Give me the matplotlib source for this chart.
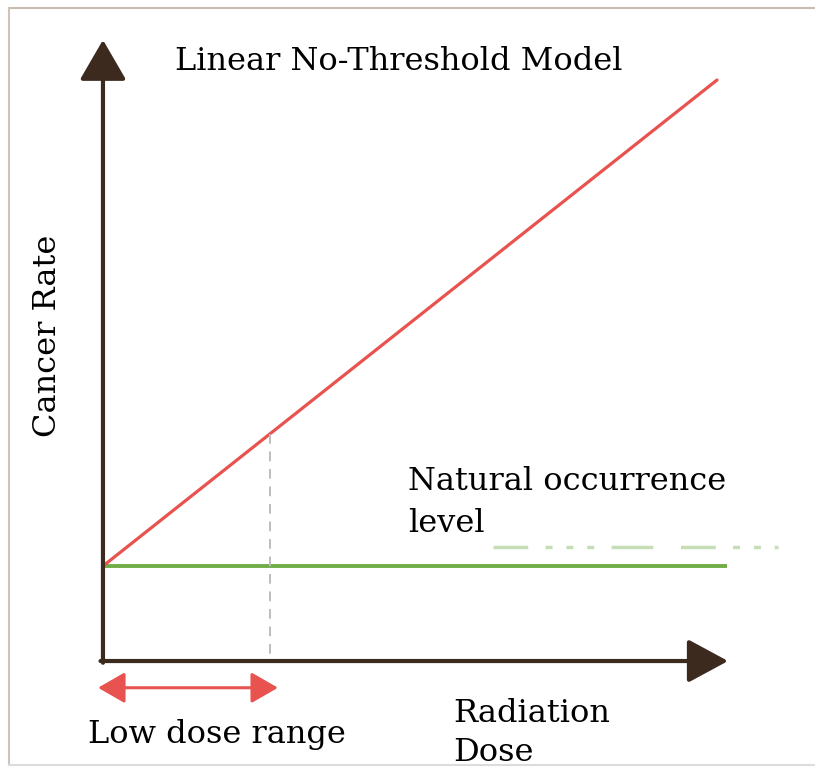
import matplotlib
matplotlib.use('Agg')
import numpy as np
import matplotlib.pyplot as plt
from matplotlib.lines import Line2D

# ---- data (schematic units) ----
dose = [0.0, 10.0]
lnt_rate = [1.635, 10.0]
natural_dose = [0.0, 10.16]
natural_rate = [1.635, 1.635]
low_dose_limit = 2.72
low_dose_arrow = [-0.08, 2.85]
faint_dose = [6.35, 11.0]
faint_rate = [1.96, 1.96]

title = "Linear No-Threshold Model"
ylabel = "Cancer Rate"
xlabel = ["Radiation", "Dose"]
natural_label = ["Natural occurrence", "level"]
low_label = "Low dose range"

W, H = 815, 767
fig = plt.figure(figsize=(W / 100, H / 100), dpi=100)
fig.patch.set_facecolor('white')
ax = fig.add_axes([0, 0, 1, 1])
ax.set_xlim(-1.677, 11.596)
ax.set_ylim(-1.824, 11.377)
ax.axis('off')

axis_col = '#3d2a1e'
red = '#e8534f'
green = '#70ad47'

# frame of the picture
fig.add_artist(Line2D([10 / W, 1], [1 - 8 / H] * 2, color='#c9bbb0', lw=1.5))
fig.add_artist(Line2D([9 / W] * 2, [1 - 8 / H, 1 - 765 / H], color='#cfc3ba', lw=1.5))
fig.add_artist(Line2D([9 / W, 1], [1 - 765 / H] * 2, color='#dcdcdc', lw=1.5))

# axes arrows
ax.annotate('', xy=(0, 10.69), xytext=(0, -0.03),
            arrowprops=dict(arrowstyle='-|>,head_length=25,head_width=14.5',
                            mutation_scale=1, lw=3.0, color=axis_col,
                            shrinkA=0, shrinkB=0))
ax.annotate('', xy=(10.18, 0), xytext=(-0.04, 0),
            arrowprops=dict(arrowstyle='-|>,head_length=25,head_width=13.5',
                            mutation_scale=1, lw=3.0, color=axis_col,
                            shrinkA=0, shrinkB=0))

# faint artifact line
ax.plot(faint_dose, faint_rate, color=green, lw=2.5, alpha=0.4,
        dashes=(10, 5, 2, 4, 2, 4, 2, 5, 12, 8), solid_capstyle='butt')

# lines
ax.plot(natural_dose, natural_rate, color=green, lw=2.8, solid_capstyle='butt')
ax.plot(dose, lnt_rate, color=red, lw=2.3, solid_capstyle='round')

# dashed low-dose marker
top = np.interp(low_dose_limit, dose, lnt_rate)
ax.plot([low_dose_limit, low_dose_limit], [top, 0.05], color='#bdbdbd',
        lw=1.4, dashes=(5, 4))

# low dose range double arrow
ax.annotate('', xy=(low_dose_arrow[1], -0.46), xytext=(low_dose_arrow[0], -0.46),
            arrowprops=dict(arrowstyle='<|-|>,head_length=16.5,head_width=9.5',
                            mutation_scale=1, lw=2.2, color=red,
                            shrinkA=0, shrinkB=0))

font = 'DejaVu Serif'
fs = 23
fig.text(175 / W, 1 - 70 / H, title, family=font, fontsize=fs, va='baseline', ha='left')
fig.text(48 / W, 1 - 336 / H, ylabel, family=font, fontsize=fs, rotation=90,
         va='center', ha='center')
fig.text(408 / W, 1 - 490 / H, natural_label[0], family=font, fontsize=fs,
         va='baseline', ha='left')
fig.text(408 / W, 1 - 532 / H, natural_label[1], family=font, fontsize=fs,
         va='baseline', ha='left')
fig.text(453 / W, 1 - 722 / H, xlabel[0], family=font, fontsize=fs,
         va='baseline', ha='left')
fig.text(453 / W, 1 - 761 / H, xlabel[1], family=font, fontsize=fs,
         va='baseline', ha='left')
fig.text(88 / W, 1 - 743 / H, low_label, family=font, fontsize=fs,
         va='baseline', ha='left')

fig.savefig('out.png', dpi=100, facecolor='white')
